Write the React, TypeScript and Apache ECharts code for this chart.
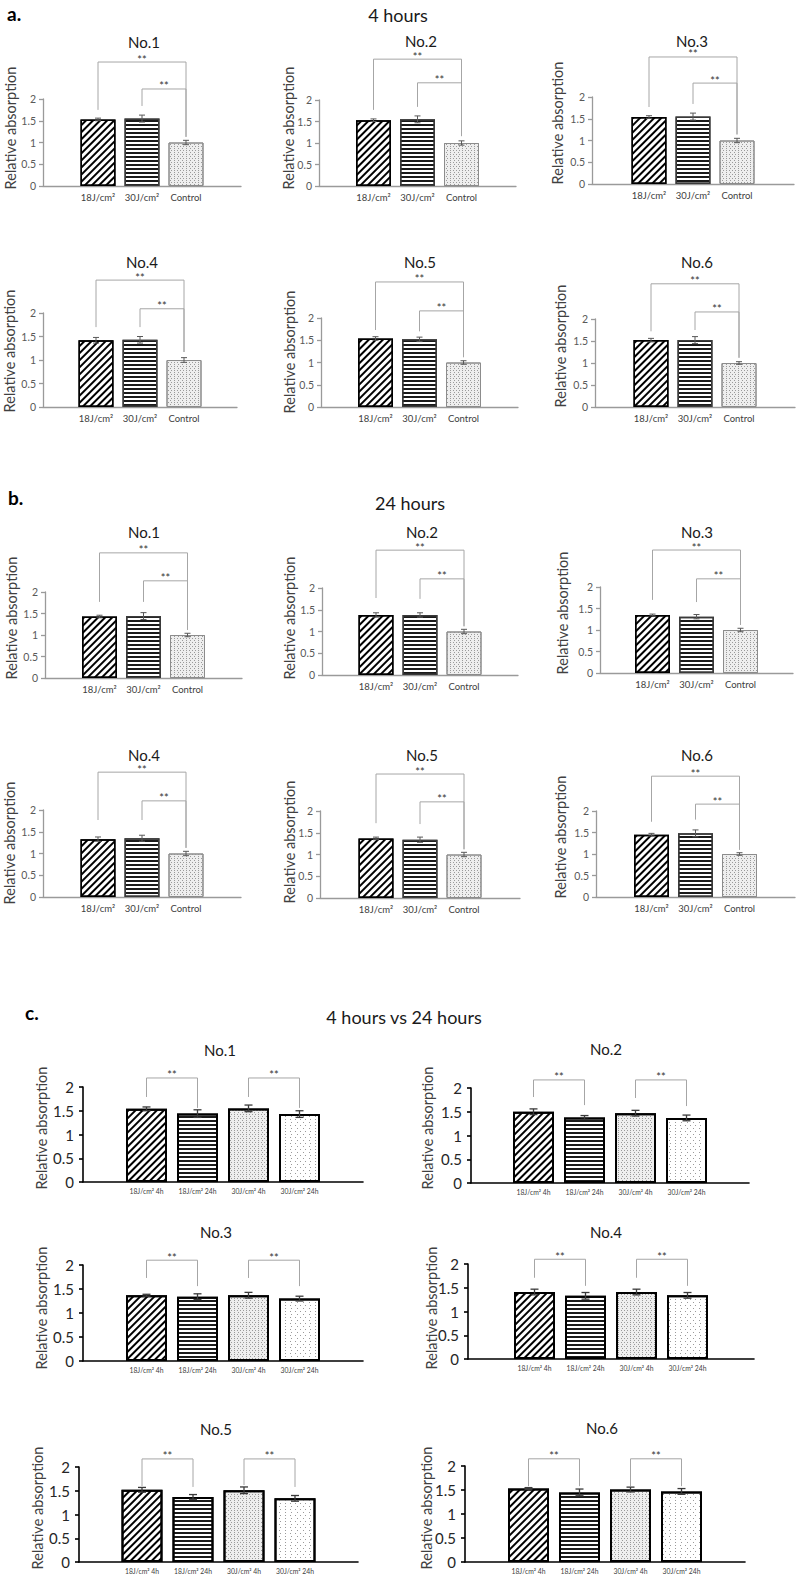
import React, { useEffect, useRef } from 'react';
import * as echarts from 'echarts';

// ---------- data ----------
const CAT_AB = ['18J/cm²', '30J/cm²', 'Control'];
const CAT_C = ['18J/cm² 4h', '18J/cm² 24h', '30J/cm² 4h', '30J/cm² 24h'];
const Y_TICK_LABELS = ['0', '0.5', '1', '1.5', '2'];
const SAMPLE_NAMES = ['No.1', 'No.2', 'No.3', 'No.4', 'No.5', 'No.6'];
const SECTION_LABELS = ['a.', 'b.', 'c.'];
const SECTION_TITLES = ['4 hours', '24 hours', '4 hours vs 24 hours'];
const Y_NAME = 'Relative absorption';
const SIG = '**';

// a. 4 hours
const A_MEAN = [
  [1.53, 1.55, 1.0],
  [1.53, 1.55, 1.0],
  [1.54, 1.55, 1.0],
  [1.42, 1.43, 1.0],
  [1.54, 1.52, 1.0],
  [1.52, 1.52, 1.0],
];
const A_ERR = [
  [0.03, 0.08, 0.05],
  [0.03, 0.08, 0.05],
  [0.03, 0.08, 0.05],
  [0.06, 0.07, 0.05],
  [0.04, 0.05, 0.04],
  [0.04, 0.08, 0.03],
];
// bracket: [from, to, level, left leg end, right leg end]
const A_BRACKETS = [
  [[0, 2, 2.85, 1.75, 1.13], [1, 2, 2.23, 1.84, 1.13]],
  [[0, 2, 2.95, 1.77, 1.16], [1, 2, 2.4, 1.84, 1.16]],
  [[0, 2, 2.92, 1.77, 1.14], [1, 2, 2.32, 1.84, 1.14]],
  [[0, 2, 2.7, 1.7, 1.17], [1, 2, 2.09, 1.7, 1.17]],
  [[0, 2, 2.81, 1.73, 1.12], [1, 2, 2.16, 1.7, 1.12]],
  [[0, 2, 2.8, 1.72, 1.12], [1, 2, 2.16, 1.75, 1.12]],
];

// b. 24 hours
const B_MEAN = [
  [1.43, 1.44, 1.0],
  [1.38, 1.38, 1.0],
  [1.35, 1.31, 1.0],
  [1.33, 1.35, 1.0],
  [1.37, 1.34, 1.0],
  [1.45, 1.48, 1.0],
];
const B_ERR = [
  [0.03, 0.08, 0.04],
  [0.05, 0.05, 0.05],
  [0.02, 0.05, 0.04],
  [0.05, 0.07, 0.05],
  [0.03, 0.06, 0.05],
  [0.03, 0.08, 0.03],
];
const B_BRACKETS = [
  [[0, 2, 2.91, 1.77, 1.12], [1, 2, 2.26, 1.77, 1.12]],
  [[0, 2, 2.87, 1.77, 1.12], [1, 2, 2.21, 1.75, 1.12]],
  [[0, 2, 2.86, 1.7, 1.12], [1, 2, 2.19, 1.65, 1.12]],
  [[0, 2, 2.87, 1.77, 1.13], [1, 2, 2.21, 1.77, 1.13]],
  [[0, 2, 2.85, 1.72, 1.12], [1, 2, 2.21, 1.7, 1.12]],
  [[0, 2, 2.81, 1.75, 1.1], [1, 2, 2.16, 1.8, 1.1]],
];

// c. 4 hours vs 24 hours
const C_MEAN = [
  [1.54, 1.44, 1.55, 1.43],
  [1.5, 1.38, 1.47, 1.37],
  [1.37, 1.34, 1.37, 1.3],
  [1.41, 1.33, 1.41, 1.34],
  [1.52, 1.37, 1.51, 1.34],
  [1.53, 1.45, 1.51, 1.47],
];
const C_ERR = [
  [0.04, 0.08, 0.07, 0.07],
  [0.06, 0.04, 0.06, 0.06],
  [0.02, 0.06, 0.06, 0.05],
  [0.06, 0.07, 0.06, 0.06],
  [0.05, 0.05, 0.07, 0.06],
  [0.02, 0.07, 0.05, 0.06],
];
const C_BRACKETS = [
  [[0, 1, 2.19, 1.79, 1.56], [2, 3, 2.19, 1.79, 1.56]],
  [[0, 1, 2.17, 1.81, 1.64], [2, 3, 2.17, 1.79, 1.62]],
  [[0, 1, 2.1, 1.73, 1.56], [2, 3, 2.1, 1.73, 1.56]],
  [[0, 1, 2.1, 1.71, 1.54], [2, 3, 2.1, 1.71, 1.54]],
  [[0, 1, 2.17, 1.6, 1.58], [2, 3, 2.17, 1.62, 1.58]],
  [[0, 1, 2.15, 1.58, 1.58], [2, 3, 2.15, 1.58, 1.58]],
];

// ---------- layout (pixels) ----------
type Box = { l: number; r: number; t: number; b: number; tx: number; ty: number; nx: number; ny: number };
const LAYOUT_A: Box[] = [
  { l: 43, r: 241, t: 99, b: 186, tx: 144, ty: 42, nx: 10, ny: 128 },
  { l: 319, r: 516, t: 100, b: 186, tx: 421, ty: 41, nx: 288, ny: 128 },
  { l: 592, r: 794, t: 97, b: 184, tx: 692, ty: 41, nx: 557, ny: 123 },
  { l: 43, r: 237, t: 313, b: 407, tx: 142, ty: 262, nx: 9, ny: 351 },
  { l: 321, r: 518, t: 318, b: 407, tx: 420, ty: 262, nx: 289, ny: 352 },
  { l: 595, r: 795, t: 319, b: 407, tx: 697, ty: 262, nx: 560, ny: 346 },
];
const LAYOUT_B: Box[] = [
  { l: 45, r: 242, t: 592, b: 678, tx: 144, ty: 532, nx: 11, ny: 618 },
  { l: 322, r: 518, t: 588, b: 675, tx: 422, ty: 532, nx: 289, ny: 618 },
  { l: 600, r: 793, t: 587, b: 673, tx: 697, ty: 532, nx: 562, ny: 613 },
  { l: 43, r: 241, t: 810, b: 897, tx: 144, ty: 755, nx: 9, ny: 843 },
  { l: 320, r: 520, t: 811, b: 898, tx: 422, ty: 755, nx: 289, ny: 842 },
  { l: 596, r: 795, t: 811, b: 897, tx: 697, ty: 755, nx: 560, ny: 837 },
];
const LAYOUT_C: Box[] = [
  { l: 83, r: 363, t: 1087, b: 1182, tx: 220, ty: 1050, nx: 41, ny: 1128 },
  { l: 471, r: 749, t: 1088, b: 1183, tx: 606, ty: 1049, nx: 427, ny: 1128 },
  { l: 83, r: 363, t: 1265, b: 1361, tx: 216, ty: 1232, nx: 41, ny: 1308 },
  { l: 468, r: 754, t: 1264, b: 1359, tx: 606, ty: 1232, nx: 431, ny: 1308 },
  { l: 79, r: 358, t: 1467, b: 1562, tx: 216, ty: 1429, nx: 37, ny: 1508 },
  { l: 465, r: 745, t: 1466, b: 1562, tx: 602, ty: 1428, nx: 426, ny: 1508 },
];

const FONT = 'Lato, "Liberation Sans", sans-serif';

// ---------- bar styles ----------
const diag = (border: string, bw: number) => ({
  color: '#ffffff',
  borderColor: border,
  borderWidth: bw,
  decal: { symbol: 'rect', symbolSize: 1, dashArrayX: [1, 0], dashArrayY: [2, 2.3], rotation: -Math.PI / 4, color: '#000000' },
});
const horiz = (border: string, bw: number) => ({
  color: '#ffffff',
  borderColor: border,
  borderWidth: bw,
  decal: { symbol: 'rect', symbolSize: 1, dashArrayX: [1, 0], dashArrayY: [1.7, 1.6], rotation: 0, color: '#1a1a1a' },
});
const speck = (border: string, bw: number) => ({
  color: '#eeeeee',
  borderColor: border,
  borderWidth: bw,
  decal: { symbol: 'rect', symbolSize: 1, dashArrayX: [[1, 1.5], [0, 1.2, 1, 0.3]], dashArrayY: [1, 0.8], rotation: 0, color: '#9a9a9a' },
});
const sparse = (border: string, bw: number) => ({
  color: '#ffffff',
  borderColor: border,
  borderWidth: bw,
  decal: { symbol: 'rect', symbolSize: 1, dashArrayX: [[1, 4], [0, 2.5, 1, 1.5]], dashArrayY: [1, 2], rotation: 0, color: '#9a9a9a' },
});

const STYLES_AB = [diag('#000', 1.5), horiz('#3a3a3a', 1.5), speck('#8c8c8c', 1)];
const STYLES_C = [diag('#000', 2), horiz('#000', 2), speck('#000', 2), sparse('#000', 2)];

function buildOption() {
  const grid: any[] = [];
  const xAxis: any[] = [];
  const yAxis: any[] = [];
  const series: any[] = [];
  const graphic: any[] = [];

  const panels = [
    { layout: LAYOUT_A, mean: A_MEAN, err: A_ERR, br: A_BRACKETS, cats: CAT_AB, styles: STYLES_AB, c: false },
    { layout: LAYOUT_B, mean: B_MEAN, err: B_ERR, br: B_BRACKETS, cats: CAT_AB, styles: STYLES_AB, c: false },
    { layout: LAYOUT_C, mean: C_MEAN, err: C_ERR, br: C_BRACKETS, cats: CAT_C, styles: STYLES_C, c: true },
  ];

  panels.forEach((p) => {
    const slot = p.c ? 51 : 44;
    const barW = p.c ? 41 : 35;
    const cap = p.c ? 4 : 3;
    const axisColor = p.c ? '#000000' : '#9a9a9a';
    const axisWidth = p.c ? 1.6 : 1.3;
    const tickColor = p.c ? '#262626' : '#595959';
    const tickSize = p.c ? 15 : 10.5;
    const catSize = p.c ? 6.8 : 9.5;
    const nameSize = 14.5;
    const errColor = p.c ? '#3a3a3a' : '#595959';

    p.layout.forEach((box, i) => {
      const n = p.cats.length;
      const outer = grid.length;
      grid.push({ left: box.l, top: box.t, width: box.r - box.l, height: box.b - box.t });
      xAxis.push({
        gridIndex: outer, type: 'value', min: 0, max: 1,
        axisLine: { show: true, onZero: false, lineStyle: { color: axisColor, width: axisWidth } },
        axisTick: { show: false }, axisLabel: { show: false }, splitLine: { show: false },
      });
      yAxis.push({
        gridIndex: outer, type: 'value', min: 0, max: 2, interval: 0.5,
        axisLine: { show: true, onZero: false, lineStyle: { color: axisColor, width: axisWidth } },
        axisTick: { show: true, length: 4, lineStyle: { color: axisColor, width: axisWidth } },
        axisLabel: {
          margin: p.c ? 9 : 7, color: tickColor, fontSize: tickSize, fontFamily: FONT,
          formatter: (_v: number, idx: number) => Y_TICK_LABELS[idx],
        },
        splitLine: { show: false },
      });
      const inner = grid.length;
      const cx = (box.l + box.r) / 2;
      grid.push({ left: cx - (n * slot) / 2, top: box.t, width: n * slot, height: box.b - box.t });
      xAxis.push({
        gridIndex: inner, type: 'category', data: p.cats,
        axisLine: { show: false }, axisTick: { show: false },
        axisLabel: { interval: 0, margin: p.c ? 5 : 6, color: '#404040', fontSize: catSize, fontFamily: FONT },
      });
      yAxis.push({ gridIndex: inner, type: 'value', min: 0, max: 2, show: false });

      series.push({
        type: 'bar', xAxisIndex: inner, yAxisIndex: inner, barWidth: barW,
        data: p.mean[i].map((v, k) => ({ value: v, itemStyle: p.styles[k] })),
        z: 2,
      });
      series.push({
        type: 'custom', xAxisIndex: inner, yAxisIndex: inner, z: 5,
        data: p.mean[i].map((v, k) => [k, v, p.err[i][k]]),
        renderItem: (_params: any, api: any) => {
          const x = api.value(0);
          const m = api.value(1);
          const e = api.value(2);
          const top = api.coord([x, m + e]);
          const bot = api.coord([x, m - e]);
          const st = { stroke: errColor, lineWidth: p.c ? 1.3 : 1 };
          return {
            type: 'group',
            children: [
              { type: 'line', shape: { x1: top[0], y1: top[1], x2: bot[0], y2: bot[1] }, style: st },
              { type: 'line', shape: { x1: top[0] - cap, y1: top[1], x2: top[0] + cap, y2: top[1] }, style: st },
              { type: 'line', shape: { x1: bot[0] - cap, y1: bot[1], x2: bot[0] + cap, y2: bot[1] }, style: st },
            ],
          };
        },
      });
      series.push({
        type: 'custom', xAxisIndex: inner, yAxisIndex: inner, z: 4, clip: false,
        data: p.br[i],
        renderItem: (_params: any, api: any) => {
          const a = api.value(0);
          const b = api.value(1);
          const lv = api.value(2);
          const la = api.value(3);
          const lb = api.value(4);
          const p1 = api.coord([a, la]);
          const p2 = api.coord([a, lv]);
          const p3 = api.coord([b, lv]);
          const p4 = api.coord([b, lb]);
          return {
            type: 'group',
            children: [
              { type: 'polyline', shape: { points: [p1, p2, p3, p4] }, style: { stroke: '#a6a6a6', lineWidth: 1, fill: null } },
              {
                type: 'text', x: (p2[0] + p3[0]) / 2, y: p2[1] - 3,
                style: {
                  text: SIG, textAlign: 'center', textVerticalAlign: 'middle',
                  fontSize: 11, lineHeight: 8, fontFamily: FONT, fill: '#333333',
                },
              },
            ],
          };
        },
      });

      graphic.push({
        type: 'text', x: box.tx, y: box.ty,
        style: {
          text: SAMPLE_NAMES[i], textAlign: 'center', textVerticalAlign: 'middle',
          fontSize: 15, lineHeight: 14, fontFamily: FONT, fill: '#1a1a1a',
        },
      });
      graphic.push({
        type: 'text', x: box.nx, y: box.ny, rotation: Math.PI / 2,
        style: { text: Y_NAME, textAlign: 'center', textVerticalAlign: 'middle', fontSize: nameSize, fontFamily: FONT, fill: '#404040' },
      });
    });
  });

  const headerPos = [
    { lx: 7, ly: 13, tx: 398, ty: 15 },
    { lx: 8, ly: 497, tx: 410, ty: 503 },
    { lx: 25, ly: 1012, tx: 404, ty: 1017 },
  ];
  headerPos.forEach((h, k) => {
    graphic.push({
      type: 'text', x: h.lx, y: h.ly,
      style: { text: SECTION_LABELS[k], textAlign: 'left', textVerticalAlign: 'middle', fontSize: 19, fontWeight: 'bold', fontFamily: FONT, fill: '#000' },
    });
    graphic.push({
      type: 'text', x: h.tx, y: h.ty,
      style: { text: SECTION_TITLES[k], textAlign: 'center', textVerticalAlign: 'middle', fontSize: 18, fontFamily: FONT, fill: '#1a1a1a' },
    });
  });

  return {
    animation: false,
    backgroundColor: '#ffffff',
    textStyle: { fontFamily: FONT },
    grid,
    xAxis,
    yAxis,
    series,
    graphic,
  };
}

export default function App() {
  const ref = useRef<HTMLDivElement>(null);
  useEffect(() => {
    if (!ref.current) return;
    const chart = echarts.init(ref.current, undefined, { renderer: 'svg' });
    chart.setOption(buildOption() as any);
    return () => chart.dispose();
  }, []);
  return (
    <div
      ref={ref}
      style={{ position: 'absolute', left: 0, top: 0, width: 797, height: 1578, background: '#fff' }}
    />
  );
}
